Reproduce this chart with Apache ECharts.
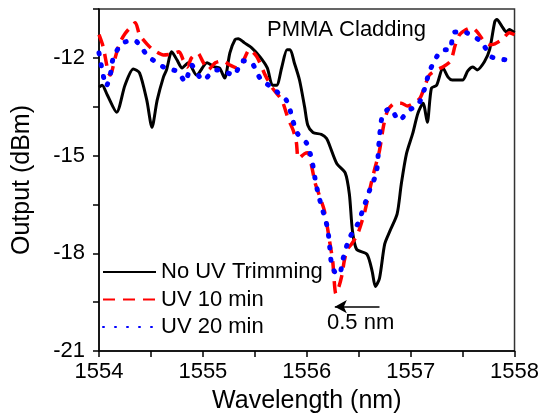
<!DOCTYPE html>
<html>
<head>
<meta charset="utf-8">
<script src="https://cdn.jsdelivr.net/npm/echarts@6/dist/echarts.min.js"></script>
<style>html,body{margin:0;padding:0;background:#fff}#c{width:542px;height:419px}</style>
</head>
<body>
<div id="c"></div>
<script>
// ---- data ----
const seriesNames = ['No UV Trimming', 'UV 10 min', 'UV 20 min'];
const xTicks = [1554, 1555, 1556, 1557, 1558];
const yTicks = [-21, -18, -15, -12];

const blackX = [1554.00,1554.03,1554.08,1554.17,1554.25,1554.33,1554.39,1554.46,1554.51,1554.56,1554.62,1554.65,1554.70,1554.75,1554.80,1554.86,1554.94,1555.04,1555.11,1555.16,1555.21,1555.26,1555.31,1555.34,1555.40,1555.47,1555.55,1555.62,1555.67,1555.71,1555.76,1555.81,1555.84,1555.88,1555.93,1555.98,1556.01,1556.06,1556.14,1556.19,1556.22,1556.29,1556.37,1556.41,1556.44,1556.48,1556.58,1556.63,1556.66,1556.70,1556.75,1556.80,1556.87,1556.91,1556.96,1557.02,1557.07,1557.12,1557.16,1557.20,1557.25,1557.31,1557.36,1557.40,1557.50,1557.55,1557.60,1557.64,1557.71,1557.76,1557.81,1557.83,1557.88,1557.92,1557.95,1558.00];
const blackY = [-12.90,-12.84,-13.14,-13.67,-12.84,-12.34,-12.46,-13.30,-14.13,-13.30,-12.59,-12.37,-11.81,-12.06,-12.31,-12.15,-12.53,-12.15,-12.28,-12.31,-12.62,-11.85,-11.44,-11.41,-11.54,-11.69,-11.97,-12.31,-12.84,-12.84,-12.28,-11.75,-11.75,-12.15,-12.68,-13.52,-14.07,-14.29,-14.35,-14.47,-14.69,-15.25,-15.53,-16.18,-17.32,-17.88,-18.03,-18.56,-19.02,-18.77,-17.72,-17.32,-16.79,-15.87,-14.94,-14.32,-13.70,-13.39,-13.98,-12.93,-12.84,-12.31,-12.59,-12.68,-12.68,-12.40,-12.28,-12.37,-12.12,-11.75,-10.89,-10.82,-11.04,-11.20,-11.13,-11.23];

const redX = [1554.00,1554.04,1554.09,1554.11,1554.15,1554.20,1554.25,1554.30,1554.35,1554.39,1554.46,1554.52,1554.62,1554.70,1554.77,1554.81,1554.85,1554.89,1554.95,1555.00,1555.05,1555.12,1555.19,1555.26,1555.33,1555.38,1555.45,1555.52,1555.60,1555.67,1555.76,1555.82,1555.87,1555.90,1555.92,1555.98,1556.01,1556.05,1556.08,1556.13,1556.17,1556.20,1556.22,1556.25,1556.28,1556.31,1556.34,1556.36,1556.39,1556.43,1556.48,1556.51,1556.56,1556.61,1556.65,1556.70,1556.74,1556.78,1556.85,1556.91,1556.97,1557.03,1557.09,1557.13,1557.18,1557.25,1557.31,1557.38,1557.40,1557.43,1557.47,1557.52,1557.59,1557.64,1557.71,1557.76,1557.81,1557.88,1557.95,1558.00];
const redY = [-11.29,-11.66,-12.46,-12.53,-12.06,-11.54,-11.26,-11.07,-10.92,-11.29,-11.57,-11.75,-11.91,-11.88,-11.81,-12.06,-12.28,-12.00,-11.85,-12.12,-12.37,-12.15,-12.09,-12.22,-12.31,-12.15,-11.75,-11.97,-12.53,-12.93,-13.30,-13.86,-14.23,-14.60,-15.09,-14.94,-14.91,-15.37,-15.84,-16.30,-16.70,-17.23,-17.63,-18.25,-19.24,-19.02,-18.65,-18.25,-17.88,-17.72,-17.47,-17.23,-16.70,-15.99,-15.46,-14.85,-14.07,-13.61,-13.39,-13.39,-13.48,-13.39,-13.24,-12.93,-12.53,-12.37,-12.28,-12.12,-11.97,-11.60,-11.29,-11.16,-11.07,-11.20,-11.51,-11.60,-11.57,-11.44,-11.23,-11.29];

const blueX = [1554.00,1554.03,1554.07,1554.11,1554.14,1554.23,1554.34,1554.47,1554.62,1554.76,1554.83,1554.89,1555.00,1555.13,1555.19,1555.30,1555.38,1555.47,1555.55,1555.67,1555.81,1555.86,1555.91,1556.00,1556.05,1556.08,1556.11,1556.15,1556.20,1556.22,1556.24,1556.29,1556.32,1556.35,1556.41,1556.49,1556.56,1556.61,1556.67,1556.70,1556.73,1556.80,1556.89,1556.98,1557.07,1557.13,1557.18,1557.25,1557.31,1557.38,1557.41,1557.47,1557.54,1557.68,1557.78,1557.95,1558.00];
const blueY = [-11.85,-12.37,-12.87,-12.49,-11.97,-11.54,-11.47,-11.94,-12.28,-12.43,-12.74,-12.22,-12.68,-12.37,-12.40,-12.53,-12.09,-12.15,-12.62,-12.93,-13.33,-13.86,-14.32,-14.63,-15.16,-15.71,-16.18,-16.64,-17.23,-17.78,-18.34,-18.65,-18.62,-18.16,-17.54,-17.10,-16.48,-16.02,-15.53,-14.44,-13.76,-13.55,-13.92,-13.61,-13.45,-12.99,-12.43,-11.97,-11.75,-11.75,-11.23,-11.20,-11.23,-11.51,-11.97,-12.06,-11.97];

// arrow annotation (data coords): tail -> head
const arrowFrom = [1556.70, -19.64];
const arrowTo = [1556.27, -19.64];

// ---- chart ----
const zip = (xs, ys) => xs.map((x, i) => [x, ys[i]]);
const FONT = 'Liberation Sans, Arial, sans-serif';
const chart = echarts.init(document.getElementById('c'), null, {renderer: 'canvas'});

const lineSeries = (name, data, color, type, width, cap) => ({
  name, type: 'line', data, showSymbol: false, symbol: 'none', smooth: 0.25,
  color,
  lineStyle: {color, width, type, cap: cap || 'butt'},
  animation: false, silent: true, z: 3
});

const s0 = lineSeries(seriesNames[0], zip(blackX, blackY), '#000000', 'solid', 3);
s0.markLine = {
  silent: true, animation: false,
  symbol: ['none', 'arrow'], symbolSize: [10, 12],
  lineStyle: {color: '#000', width: 1.5, type: 'solid'},
  label: {show: false},
  data: [[{coord: arrowFrom}, {coord: arrowTo}]]
};

const option = {
  backgroundColor: '#fff',
  animation: false,
  textStyle: {fontFamily: FONT},
  grid: {left: 99, right: 27, top: 9, bottom: 67, show: true, borderColor: '#333', borderWidth: 1.5, backgroundColor: 'transparent'},
  xAxis: {
    type: 'value', min: 1554, max: 1558, interval: 0.5,
    name: 'Wavelength (nm)', nameLocation: 'middle', nameGap: 38,
    nameTextStyle: {fontSize: 25, color: '#000', fontFamily: FONT},
    axisLine: {show: true, lineStyle: {color: '#000', width: 1.5}},
    axisTick: {show: true, inside: false, length: 6, lineStyle: {color: '#000', width: 1.5}},
    axisLabel: {fontSize: 22, color: '#000', margin: 10, fontFamily: FONT,
      formatter: v => xTicks.includes(Math.round(v * 100) / 100) ? String(v) : ''},
    splitLine: {show: false}
  },
  yAxis: {
    type: 'value', min: -21, max: -10.5, interval: 1.5,
    name: 'Output (dBm)', nameLocation: 'middle', nameGap: 64, nameRotate: 90,
    nameTextStyle: {fontSize: 25, color: '#000', fontFamily: FONT},
    axisLine: {show: true, lineStyle: {color: '#000', width: 1.5}},
    axisTick: {show: true, inside: false, length: 6, lineStyle: {color: '#000', width: 1.5}},
    axisLabel: {fontSize: 22, color: '#000', margin: 14, fontFamily: FONT,
      formatter: v => yTicks.includes(Math.round(v * 100) / 100) ? String(v) : ''},
    splitLine: {show: false}
  },
  legend: {
    orient: 'vertical', left: 102, top: 261, padding: 0,
    itemWidth: 53, itemHeight: 22, itemGap: 5.5,
    itemStyle: {opacity: 0},
    textStyle: {fontSize: 22, color: '#000', fontFamily: FONT, lineHeight: 22},
    data: seriesNames, selectedMode: false
  },
  series: [
    s0,
    lineSeries(seriesNames[1], zip(redX, redY), '#ff0000', [12, 8], 3.5),
    lineSeries(seriesNames[2], zip(blueX, blueY), '#0000ff', [1, 11], 5, 'round')
  ],
  graphic: [
    {type: 'text', left: 267, top: 19, style: {text: 'PMMA Cladding', font: '22px ' + FONT, fill: '#000'}},
    {type: 'text', left: 327, top: 312, style: {text: '0.5 nm', font: '22px ' + FONT, fill: '#000'}}
  ]
};
chart.setOption(option);
</script>
</body>
</html>
